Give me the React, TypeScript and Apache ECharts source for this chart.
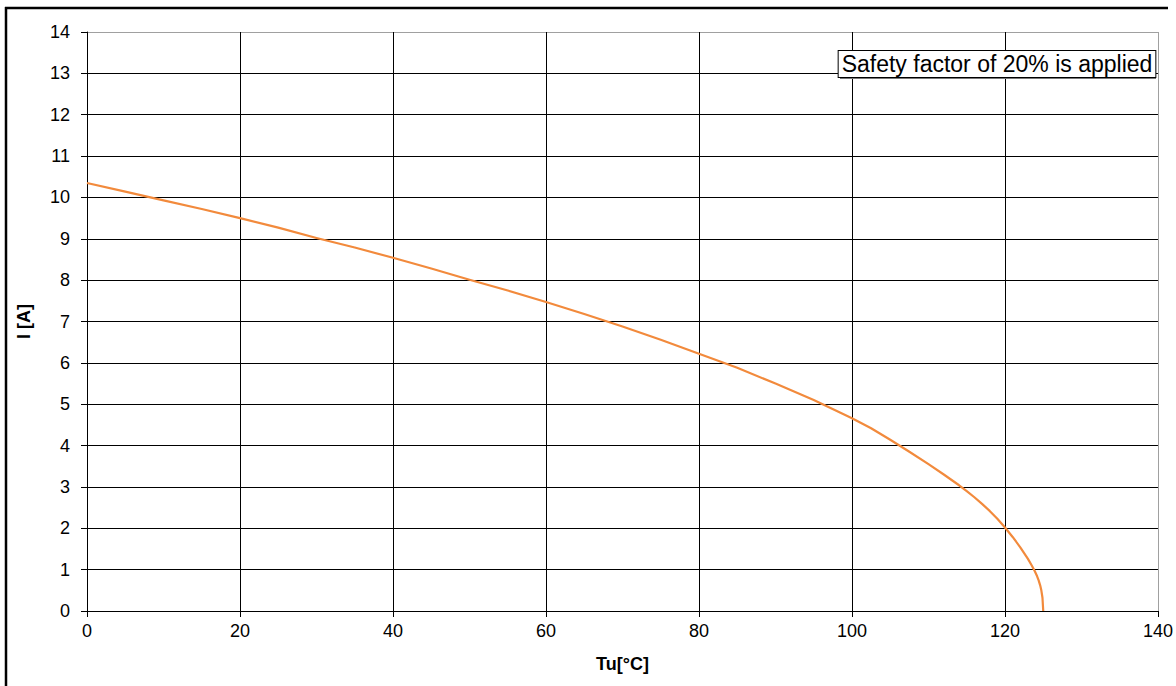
import React, { useEffect, useRef } from "react";
import * as echarts from "echarts";

const temperatures = [
  0, 5, 10, 15, 20, 25, 30, 35, 40, 45, 50, 55, 60, 65, 70, 75, 80, 85, 90, 95, 100, 102.5, 105, 107.5, 110, 112, 114,
  115, 116, 117, 118, 119, 120, 121, 122, 123, 123.5, 123.9, 124.2, 124.4, 124.6, 124.75, 124.9, 125,
];
const currents = [
  10.35, 10.14, 9.93, 9.72, 9.5, 9.27, 9.02, 8.79, 8.54, 8.28, 8.01, 7.75, 7.47, 7.18, 6.88, 6.56, 6.22, 5.88, 5.5,
  5.1, 4.66, 4.42, 4.14, 3.85, 3.55, 3.3, 3.04, 2.9, 2.75, 2.59, 2.42, 2.23, 2.02, 1.79, 1.54, 1.26, 1.1, 0.96, 0.84,
  0.74, 0.62, 0.5, 0.32, 0,
];
const xTicks = [0, 20, 40, 60, 80, 100, 120, 140];
const yTicks = [0, 1, 2, 3, 4, 5, 6, 7, 8, 9, 10, 11, 12, 13, 14];
const noteText = "Safety factor of 20% is applied";

const FONT = "'Liberation Sans', Arial, sans-serif";

export default function App() {
  const ref = useRef<HTMLDivElement>(null);
  useEffect(() => {
    if (!ref.current) return;
    const chart = echarts.init(ref.current, null, { renderer: "svg" });
    const data = temperatures.map((t, i) => [t, currents[i]]);
    const xColors = xTicks.map((_, i) => (i === xTicks.length - 1 ? "#a0a0a0" : "#000"));
    const yColors = yTicks.map((_, i) => (i === yTicks.length - 1 ? "#a0a0a0" : "#000"));
    chart.setOption({
      animation: false,
      backgroundColor: "#fff",
      grid: { left: 87, right: 18, top: 32, bottom: 75, containLabel: false },
      xAxis: {
        type: "value",
        min: xTicks[0],
        max: xTicks[xTicks.length - 1],
        interval: 20,
        name: "Tu[°C]",
        nameLocation: "middle",
        nameGap: 44,
        nameTextStyle: { fontFamily: FONT, fontSize: 18, fontWeight: "bold", color: "#000" },
        axisLine: { show: true, lineStyle: { color: "#000", width: 1 } },
        axisTick: { show: true, length: 6, lineStyle: { color: "#000" } },
        axisLabel: { margin: 11, fontFamily: FONT, fontSize: 18, color: "#000" },
        splitLine: { show: true, lineStyle: { color: xColors, width: 1 } },
      },
      yAxis: {
        type: "value",
        min: yTicks[0],
        max: yTicks[yTicks.length - 1],
        interval: 1,
        name: "I [A]",
        nameLocation: "middle",
        nameGap: 54,
        nameTextStyle: { fontFamily: FONT, fontSize: 18, fontWeight: "bold", color: "#000" },
        axisLine: { show: true, lineStyle: { color: "#000", width: 1 } },
        axisTick: { show: true, length: 6, lineStyle: { color: "#000" } },
        axisLabel: { margin: 17, fontFamily: FONT, fontSize: 18, color: "#000" },
        splitLine: { show: true, lineStyle: { color: yColors, width: 1 } },
      },
      series: [
        {
          type: "line",
          data,
          smooth: false,
          showSymbol: false,
          symbol: "none",
          lineStyle: { color: "#F28A3C", width: 2.2, join: "round" },
          z: 5,
        },
      ],
      graphic: [
        { type: "line", shape: { x1: 5, y1: 8, x2: 1168, y2: 8 }, style: { stroke: "#000", lineWidth: 2.5 }, z: 100 },
        { type: "line", shape: { x1: 6, y1: 7, x2: 6, y2: 686 }, style: { stroke: "#000", lineWidth: 2.5 }, z: 100 },
        { type: "rect", shape: { x: 840, y: 51, width: 316, height: 28 }, style: { fill: "#777" }, z: 100 },
        {
          type: "text",
          x: 997,
          y: 64,
          z: 101,
          style: {
            text: noteText,
            align: "center",
            verticalAlign: "middle",
            font: `23px ${FONT}`,
            lineHeight: 26,
            fill: "#000",
            backgroundColor: "#fff",
            borderColor: "#000",
            borderWidth: 1,
            padding: [0, 3, 0, 3],
          },
        },
      ],
    });
    return () => chart.dispose();
  }, []);
  return <div ref={ref} style={{ position: "fixed", left: 0, top: 0, width: 1176, height: 686 }} />;
}
